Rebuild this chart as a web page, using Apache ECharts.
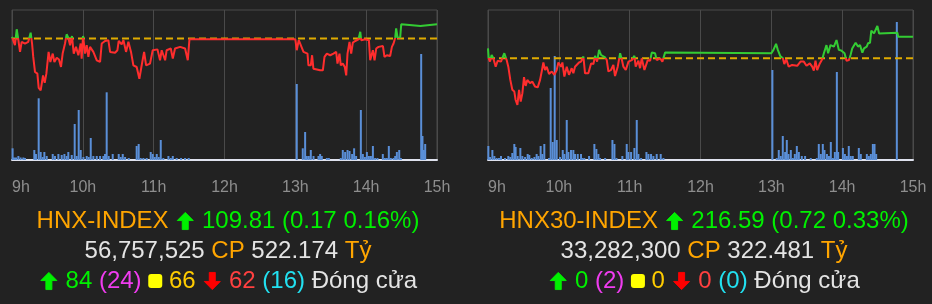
<!DOCTYPE html>
<html><head><meta charset="utf-8">
<script src="https://cdn.jsdelivr.net/npm/echarts@6/dist/echarts.min.js"></script>
<style>html,body{margin:0;padding:0;background:#222222;}#c{width:932px;height:304px;}</style>
</head><body><div id="c"></div>
<script>
// ---- data (minutes after 9:00, index points / thousand shares) ----
const hourTicks = ['9h','10h','11h','12h','13h','14h','15h'];
const hnxRef = 109.64;
const hnx30Ref = 215.87;

const hnxPrice = [[0,109.66],[2.5,109.56],[4,109.75],[5.4,109.62],[6.8,109.48],[8.2,109.60],[11,109.58],[13.8,109.60],[15.8,109.71],[17,109.58],[18,109.42],[19.5,109.24],[21.5,109.22],[22.6,109.05],[24.3,109.02],[25.4,109.03],[26.3,109.20],[27.7,109.11],[29.1,109.22],[30.2,109.24],[31,109.48],[32.5,109.36],[34.5,109.46],[35.9,109.36],[37.9,109.41],[39.8,109.39],[41.5,109.30],[42.9,109.46],[44.9,109.58],[46.3,109.69],[47.7,109.65],[49.2,109.56],[50.8,109.67],[52.3,109.46],[54.2,109.54],[56.2,109.44],[58.2,109.58],[59,109.40],[60.2,109.67],[61.9,109.46],[63.3,109.56],[64.7,109.42],[66.1,109.54],[68.9,109.48],[71.8,109.38],[74.6,109.36],[76,109.58],[78.8,109.61],[81.6,109.62],[83.1,109.48],[87.3,109.47],[89.3,109.50],[90.4,109.61],[92.9,109.57],[94.4,109.62],[96.6,109.48],[98.6,109.60],[100.8,109.48],[102.8,109.32],[105.6,109.30],[107.9,109.16],[109.6,109.30],[111.9,109.48],[113.6,109.32],[116.9,109.34],[119.2,109.50],[123.2,109.51],[125.4,109.38],[126.8,109.50],[129.7,109.38],[131,109.50],[134.5,109.52],[136.2,109.40],[138.1,109.52],[142.4,109.54],[146.6,109.52],[148.9,109.38],[150.3,109.63],[240,109.63],[241.2,109.50],[242.9,109.62],[244,109.60],[246.9,109.48],[250.3,109.46],[251.1,109.32],[253.1,109.32],[254.2,109.44],[255.3,109.28],[258.2,109.27],[261,109.26],[263.3,109.26],[264.7,109.42],[266.7,109.46],[269.5,109.44],[272.3,109.46],[274.6,109.48],[275.7,109.34],[277.4,109.46],[278.5,109.32],[280.2,109.34],[281.9,109.30],[283.1,109.20],[284.2,109.46],[285.9,109.60],[287.3,109.46],[288.7,109.59],[290.7,109.61],[293.5,109.63],[295,109.72],[295.8,109.62],[299.2,109.63],[302.3,109.62],[303.4,109.38],[305.7,109.50],[307.1,109.38],[308.5,109.52],[310.5,109.54],[314.2,109.55],[315.5,109.42],[317.5,109.44],[320.3,109.43],[321.8,109.54],[323.2,109.58],[324.6,109.65],[325.4,109.76],[326.6,109.65],[328.8,109.65],[329.7,109.81],[331.2,109.79],[345.9,109.79],[346.8,109.81],[360,109.81]];

const hnxVolume = [[0.5,117],[1.7,25],[3.4,25],[5.4,40],[7.3,25],[9.6,25],[11,20],[18.9,100],[20.3,60],[22.6,617],[24.3,80],[26,30],[27.4,80],[29.4,40],[34.5,60],[36.4,40],[39.3,60],[42.1,50],[44.4,60],[46.3,40],[47.7,80],[50.6,50],[53.1,360],[54.8,40],[56.5,500],[58.2,100],[60.5,30],[63.3,40],[65,30],[66.7,220],[68.9,40],[71.8,40],[74.6,40],[77.4,40],[78.8,60],[80.2,677],[81.9,40],[85.3,60],[90.4,60],[92.1,30],[93.8,60],[95.8,30],[98.9,20],[105.6,140],[107.3,160],[109,20],[111.3,20],[114.1,20],[117.5,80],[119.2,60],[120.9,30],[122.6,60],[124.3,30],[126,200],[128.2,20],[132.5,40],[134.5,20],[136.2,40],[139.5,20],[143.2,20],[146.6,20],[149.7,20],[241.2,760],[246.3,117],[248.3,280],[249.7,40],[251.4,40],[253.1,100],[255.4,40],[259.6,40],[261,60],[262.4,40],[266.7,20],[268.4,20],[278.5,20],[280.2,100],[282.2,80],[284.2,100],[285.9,90],[288.1,60],[289.8,117],[291.5,40],[295.5,500],[297.2,60],[298.9,30],[300.6,80],[302.3,40],[304,40],[305.7,140],[307.6,20],[309.6,20],[314.1,60],[315.8,20],[317.5,20],[319.2,140],[320.9,20],[323.2,20],[324.6,40],[326,80],[328,100],[329.4,20],[346.6,1060],[347.7,240],[348.9,100],[350,160]];

const hnx30Price = [[0,216.20],[0.6,215.87],[1.7,215.76],[3.1,215.98],[4.5,215.87],[6.5,215.59],[8.2,215.79],[11,215.76],[13.8,216.04],[15.8,215.81],[17.2,215.59],[18.9,215.15],[20.6,214.82],[22.3,214.76],[23.4,214.48],[24.9,214.32],[26.3,214.82],[27.7,214.43],[29.1,214.70],[30.5,215.24],[31.9,214.95],[33.3,215.15],[35.6,215.04],[37.6,215.09],[39.8,214.93],[42.1,214.90],[44.1,215.15],[45.5,215.43],[46.9,215.73],[48.3,215.48],[49.7,215.59],[51.7,215.35],[54,215.43],[56.2,215.32],[58.2,215.48],[59.6,215.73],[61.9,215.59],[63,215.73],[64.7,215.26],[66.7,215.59],[68.6,215.32],[70.9,215.54],[72.3,215.37],[73.7,215.59],[75.1,215.65],[77.1,215.73],[78.8,215.76],[80.8,215.93],[82.2,215.37],[85,215.37],[87.3,215.70],[89.3,215.68],[90.7,215.95],[92.4,215.76],[94.1,216.15],[95.8,215.98],[99.2,215.90],[100.6,215.81],[102,215.43],[104.2,215.48],[106.2,215.65],[107.6,215.28],[109.9,215.59],[111.9,216.04],[113.3,215.84],[114.7,215.59],[116.7,215.48],[119,215.76],[121.8,215.81],[124,215.95],[125.1,215.59],[127.4,215.79],[128.8,215.54],[130.2,215.87],[132.5,215.48],[133.6,215.43],[135.3,215.81],[137.3,215.79],[138.7,216.06],[141.5,216.04],[142.9,215.81],[145.8,215.87],[147.7,215.76],[148.6,215.70],[150,216.06],[240,216.04],[241.8,216.15],[244,216.35],[245.5,216.15],[247.5,215.95],[249.8,215.87],[251,215.68],[252.7,215.84],[254.7,215.59],[257.6,215.65],[261.9,215.62],[264.7,215.76],[267.5,215.76],[269.8,215.62],[272.6,215.70],[274.6,215.59],[276,215.46],[277.4,215.79],[278.8,215.48],[281.1,215.70],[283.1,215.84],[284.5,216.04],[286.7,216.31],[288.1,216.04],[290.1,216.31],[293,216.26],[295.2,216.48],[297.2,216.15],[299.2,216.13],[302,216.04],[303.7,215.79],[305.7,215.81],[307.1,215.98],[308.5,216.20],[310,216.15],[311.4,216.39],[313.4,216.26],[315.1,216.31],[317.1,216.06],[318.5,216.20],[320.8,216.26],[321.9,216.37],[323.6,216.39],[324.7,216.79],[327,216.70],[328.4,216.70],[329.8,216.95],[331.3,216.70],[332.7,216.72],[346.8,216.72],[347.4,216.59],[360,216.59]];

const hnx30Volume = [[0.3,140],[1.7,30],[3.7,100],[5.4,40],[7.3,20],[9.3,20],[11,40],[14.4,20],[17.2,40],[18.9,30],[20.6,70],[22.3,160],[23.4,130],[25.1,40],[27.4,120],[29.1,40],[31.4,30],[33.6,60],[35,50],[37,20],[39.3,30],[41.2,60],[42.7,40],[44.6,140],[46,60],[47.7,160],[51.7,20],[53.1,720],[54.8,180],[56.5,1040],[58.2,200],[61,30],[63.3,100],[64.7,60],[66.7,400],[68.1,80],[70.3,100],[72.3,100],[73.7,60],[76,60],[78.8,60],[79.9,20],[81.6,20],[85.6,40],[90.1,160],[91.8,110],[93.5,60],[94.9,20],[99.2,20],[105.4,200],[107.1,160],[108.8,20],[113.8,40],[117.5,160],[118.9,80],[121.2,80],[124,120],[126,400],[127.4,60],[129.7,20],[134.2,80],[135.9,60],[138.1,60],[140.1,40],[142.9,60],[146.3,60],[148.6,20],[240.9,900],[244.6,20],[246.3,100],[248,40],[249.7,240],[251.7,80],[253.1,200],[254.5,60],[256.5,100],[258.2,20],[259.9,60],[261.6,140],[263.3,80],[265.8,40],[268.6,40],[273.4,20],[278.5,20],[280.2,160],[281.9,60],[283.6,160],[285,100],[287.1,60],[288.8,40],[290.4,180],[292.1,20],[293.8,80],[295.5,880],[296.6,80],[300.6,120],[302.3,60],[304,40],[305.6,140],[307.3,40],[309,40],[314.1,120],[315.8,60],[320.9,60],[322.6,40],[324.3,60],[326,160],[327.4,160],[328.8,60],[346.3,1380]];

const hnxName = 'HNX-INDEX', hnxClose = '109.81', hnxChange = '0.17', hnxPct = '0.16%';
const hnxShares = '56,757,525', hnxValue = '522.174';
const hnxBreadth = ['84', '24', '66', '62', '16'];
const hnx30Name = 'HNX30-INDEX', hnx30Close = '216.59', hnx30Change = '0.72', hnx30Pct = '0.33%';
const hnx30Shares = '33,282,300', hnx30Value = '322.481';
const hnx30Breadth = ['0', '2', '0', '0', '0'];

// ---- chart ----
const FONT = '"Liberation Sans", Arial, sans-serif';
const C = {bg:'#222222', grid:'#4a4a4a', base:'#dfe2ee', label:'#8e8e8e', bar:'#5a8fd8',
  up:'#33cc33', down:'#ff2d2d', ref:'#e0ab00', orange:'#ffa500', green:'#00f000', white:'#e4e4e4',
  magenta:'#f03cf0', yellow:'#ffcc00', square:'#ffff00', redArrow:'#ff0000', red:'#ff4040', cyan:'#22e0f0'};

const panels = [
  {left:12, ref:hnxRef, pmin:108.19, pmax:109.98, vmax:1500, price:hnxPrice, vol:hnxVolume},
  {left:488, ref:hnx30Ref, pmin:212.48, pmax:217.48, vmax:1500, price:hnx30Price, vol:hnx30Volume}
];

const grid = [], xAxis = [], yAxis = [], series = [], visualMap = [];
panels.forEach((p, i) => {
  grid.push({left:p.left, top:10, width:425, height:150, show:true, borderColor:C.grid, borderWidth:1});
  xAxis.push({type:'value', gridIndex:i, min:0, max:360, interval:60,
    axisLine:{show:true, onZero:false, lineStyle:{color:C.base, width:2}},
    axisTick:{show:false},
    splitLine:{show:true, lineStyle:{color:C.grid, width:1}},
    axisLabel:{color:C.label, fontSize:16, fontFamily:FONT, margin:20, alignMinLabel:'left',
      formatter:v => hourTicks[Math.round(v/60)]}});
  yAxis.push({type:'value', gridIndex:i, min:p.pmin, max:p.pmax, show:false, splitLine:{show:false}});
  yAxis.push({type:'value', gridIndex:i, min:0, max:p.vmax, show:false, splitLine:{show:false}});
  series.push({type:'bar', xAxisIndex:i, yAxisIndex:2*i+1, data:p.vol, barWidth:2,
    itemStyle:{color:C.bar}, silent:true});
  series.push({type:'line', xAxisIndex:i, yAxisIndex:2*i, data:[[0,p.ref],[360,p.ref]], symbol:'none',
    lineStyle:{color:C.ref, width:2, type:[7,4]}, silent:true});
  series.push({type:'line', xAxisIndex:i, yAxisIndex:2*i, data:p.price, symbol:'none',
    lineStyle:{width:2}, silent:true});
  visualMap.push({type:'piecewise', show:false, seriesIndex:series.length-1, dimension:1,
    pieces:[{gte:p.pmin - 50, lt:p.ref, color:C.down},{gte:p.ref, lte:p.pmax + 50, color:C.up}]});
});

function arrowImg(color, down){
  const path = down ? 'M7 1h6v10h5l-8 9-8-9h5z' : 'M10 1l8 9h-5v10H7V10H2z';
  return 'data:image/svg+xml;charset=utf-8,' + encodeURIComponent(
    `<svg xmlns="http://www.w3.org/2000/svg" width="20" height="21" viewBox="0 0 20 21"><path d="${path}" fill="${color}" stroke="${color}" stroke-width="1" stroke-linejoin="round"/></svg>`);
}
function rich(size){
  const s = (fill, extra) => Object.assign({fill:fill, fontSize:size, fontFamily:FONT}, extra||{});
  return {
    o:s(C.orange), g:s(C.green), w:s(C.white), m:s(C.magenta), y:s(C.yellow), r:s(C.red), c:s(C.cyan),
    ua:{width:20, height:19, backgroundColor:{image:arrowImg(C.green,false)}, fontSize:1},
    da:{width:20, height:19, backgroundColor:{image:arrowImg(C.redArrow,true)}, fontSize:1},
    sq:{backgroundColor:C.square, width:14, height:14, borderRadius:3, fontSize:1}
  };
}
function lines(name, close, chg, pct, shares, value, b){
  return [
    `{o|${name}} {ua| } {g|${close} (${chg} ${pct})}`,
    `{w|${shares}} {o|CP} {w|${value}} {o|Tỷ}`,
    `{ua| } {g|${b[0]}} {m|(${b[1]})} {sq| } {y|${b[2]}} {da| } {r|${b[3]}} {c|(${b[4]})} {w|Đóng cửa}`
  ];
}
const textSets = [
  {cx:228, l:lines(hnxName,hnxClose,hnxChange,hnxPct,hnxShares,hnxValue,hnxBreadth)},
  {cx:704, l:lines(hnx30Name,hnx30Close,hnx30Change,hnx30Pct,hnx30Shares,hnx30Value,hnx30Breadth)}
];
const rowY = [221, 251, 281];
const graphic = [];
textSets.forEach(t => t.l.forEach((txt, k) => {
  graphic.push({type:'text', x:t.cx, y:rowY[k], silent:true,
    style:{text:txt, rich:rich(24), fontSize:24, fontFamily:FONT, fill:C.white, align:'center', verticalAlign:'middle'}});
}));

const chart = echarts.init(document.getElementById('c'), null, {renderer:'canvas'});
chart.setOption({backgroundColor:C.bg, animation:false, grid, xAxis, yAxis, series, visualMap, graphic});
</script></body></html>
